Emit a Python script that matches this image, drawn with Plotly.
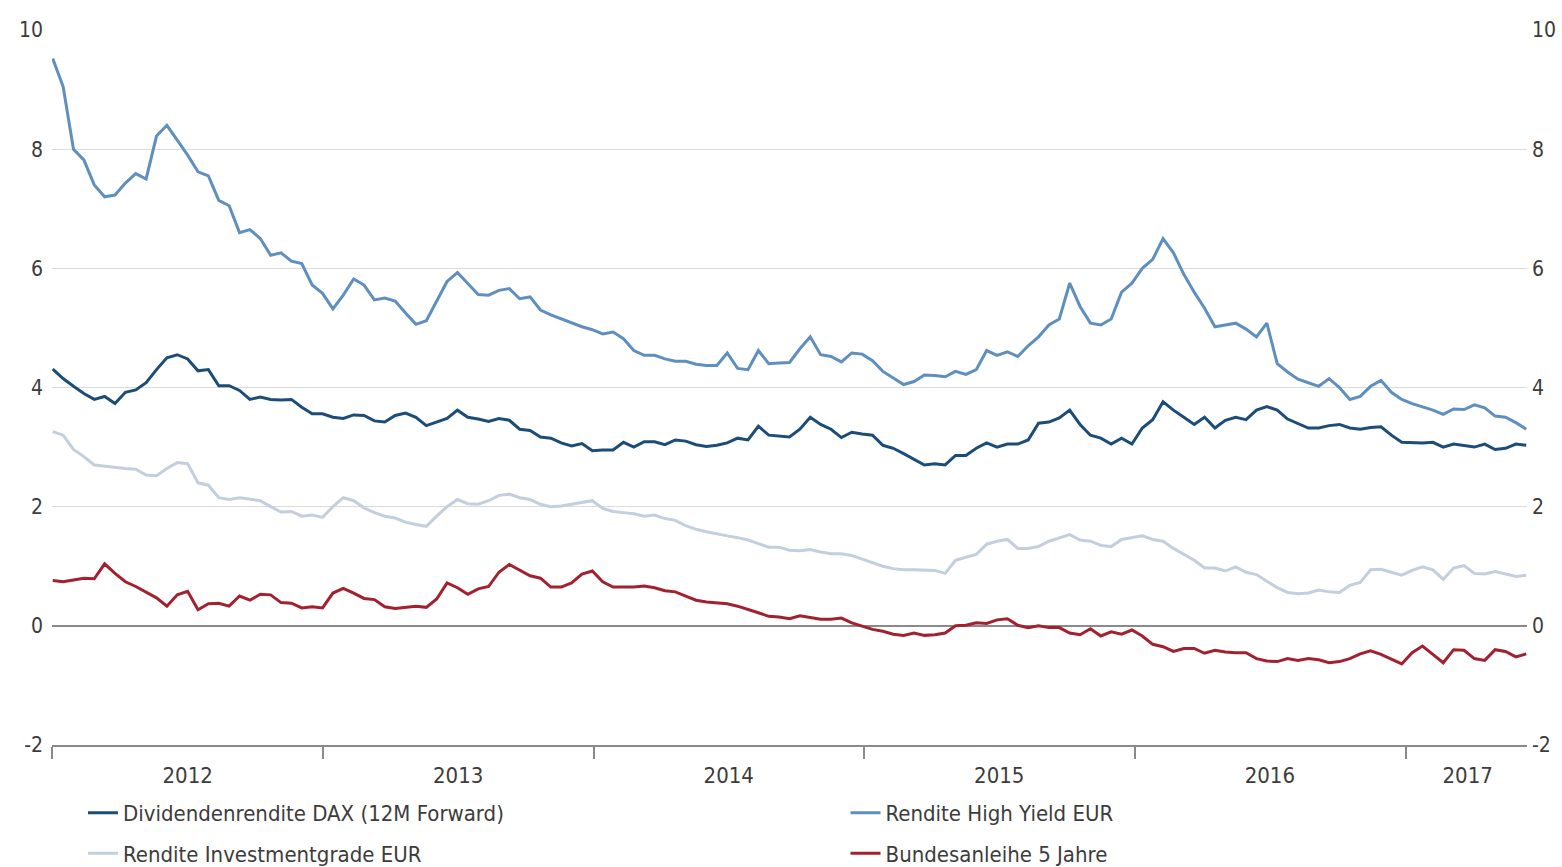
import pandas as pd
import plotly.graph_objects as go

# biweekly observation dates
dates = pd.date_range("2012-01-02", periods=143, freq="14D")

dax = [4.31, 4.15, 4.02, 3.90, 3.80, 3.85, 3.73, 3.92, 3.96, 4.08,
       4.30, 4.50, 4.55, 4.48, 4.28, 4.30, 4.03, 4.03, 3.95, 3.80,
       3.84, 3.80, 3.79, 3.80, 3.67, 3.56, 3.56, 3.50, 3.48, 3.54,
       3.53, 3.44, 3.42, 3.53, 3.57, 3.50, 3.36, 3.42, 3.48, 3.62,
       3.50, 3.47, 3.43, 3.48, 3.45, 3.30, 3.28, 3.17, 3.15, 3.07,
       3.02, 3.06, 2.94, 2.95, 2.95, 3.08, 3.00, 3.09, 3.09, 3.04,
       3.12, 3.10, 3.04, 3.01, 3.03, 3.07, 3.15, 3.12, 3.35, 3.20,
       3.18, 3.17, 3.30, 3.50, 3.38, 3.30, 3.16, 3.25, 3.22, 3.20,
       3.03, 2.98, 2.89, 2.80, 2.70, 2.72, 2.70, 2.86, 2.86, 2.98,
       3.07, 3.00, 3.05, 3.05, 3.12, 3.40, 3.42, 3.49, 3.62, 3.38,
       3.20, 3.15, 3.05, 3.15, 3.05, 3.32, 3.46, 3.76, 3.62, 3.50,
       3.38, 3.50, 3.32, 3.45, 3.50, 3.46, 3.62, 3.68, 3.62, 3.47,
       3.40, 3.32, 3.32, 3.36, 3.38, 3.32, 3.30, 3.33, 3.34, 3.20,
       3.08, 3.07, 3.07, 3.08, 3.00, 3.05, 3.03, 3.00, 3.05, 2.96,
       2.98, 3.05, 3.03]

high_yield = [9.52, 9.05, 8.00, 7.82, 7.40, 7.20, 7.23, 7.43, 7.59, 7.50,
              8.22, 8.40, 8.15, 7.90, 7.62, 7.55, 7.14, 7.05, 6.60, 6.65,
              6.50, 6.22, 6.26, 6.12, 6.08, 5.72, 5.58, 5.32, 5.55, 5.82,
              5.72, 5.47, 5.50, 5.45, 5.25, 5.06, 5.12, 5.45, 5.78, 5.93,
              5.75, 5.56, 5.55, 5.63, 5.66, 5.49, 5.52, 5.30, 5.22, 5.15,
              5.08, 5.02, 4.97, 4.90, 4.93, 4.82, 4.62, 4.54, 4.54, 4.48,
              4.44, 4.44, 4.39, 4.37, 4.37, 4.58, 4.32, 4.30, 4.62, 4.40,
              4.41, 4.42, 4.65, 4.85, 4.55, 4.52, 4.43, 4.58, 4.56, 4.45,
              4.27, 4.16, 4.05, 4.10, 4.21, 4.20, 4.18, 4.27, 4.22, 4.30,
              4.62, 4.54, 4.60, 4.52, 4.70, 4.85, 5.05, 5.15, 5.75, 5.36,
              5.08, 5.05, 5.15, 5.60, 5.75, 6.00, 6.15, 6.50, 6.26, 5.90,
              5.60, 5.33, 5.02, 5.05, 5.08, 4.98, 4.85, 5.08, 4.40, 4.26,
              4.14, 4.08, 4.02, 4.15, 4.00, 3.80, 3.85, 4.02, 4.12, 3.92,
              3.80, 3.73, 3.68, 3.62, 3.55, 3.64, 3.63, 3.71, 3.66, 3.52,
              3.50, 3.41, 3.30]

investment_grade = [3.26, 3.20, 2.96, 2.84, 2.70, 2.68, 2.65, 2.64, 2.63, 2.53,
                    2.52, 2.64, 2.74, 2.72, 2.40, 2.36, 2.15, 2.12, 2.15, 2.12,
                    2.10, 2.00, 1.91, 1.92, 1.84, 1.86, 1.82, 2.00, 2.15, 2.10,
                    1.98, 1.90, 1.84, 1.81, 1.74, 1.70, 1.67, 1.84, 2.00, 2.12,
                    2.05, 2.04, 2.10, 2.19, 2.21, 2.15, 2.12, 2.04, 2.00, 2.01,
                    2.04, 2.08, 2.10, 1.97, 1.92, 1.90, 1.88, 1.84, 1.86, 1.80,
                    1.77, 1.68, 1.62, 1.58, 1.54, 1.51, 1.48, 1.44, 1.38, 1.32,
                    1.32, 1.27, 1.26, 1.28, 1.24, 1.21, 1.21, 1.18, 1.12, 1.06,
                    1.00, 0.96, 0.94, 0.94, 0.94, 0.93, 0.88, 1.10, 1.15, 1.20,
                    1.37, 1.42, 1.45, 1.30, 1.30, 1.33, 1.42, 1.48, 1.53, 1.44,
                    1.42, 1.35, 1.33, 1.45, 1.48, 1.51, 1.45, 1.42, 1.30, 1.20,
                    1.10, 0.97, 0.97, 0.92, 0.99, 0.90, 0.86, 0.75, 0.64, 0.56,
                    0.54, 0.55, 0.60, 0.57, 0.56, 0.68, 0.73, 0.94, 0.95, 0.90,
                    0.85, 0.93, 0.99, 0.94, 0.78, 0.97, 1.01, 0.88, 0.87, 0.91,
                    0.87, 0.83, 0.85]

bund_5y = [0.76, 0.74, 0.77, 0.80, 0.79, 1.04, 0.88, 0.74, 0.66, 0.56,
           0.47, 0.33, 0.52, 0.58, 0.27, 0.37, 0.38, 0.33, 0.50, 0.43,
           0.53, 0.52, 0.39, 0.38, 0.30, 0.32, 0.30, 0.55, 0.63, 0.55,
           0.46, 0.44, 0.32, 0.29, 0.31, 0.33, 0.31, 0.45, 0.72, 0.64,
           0.53, 0.62, 0.66, 0.90, 1.03, 0.93, 0.84, 0.80, 0.65, 0.65,
           0.72, 0.87, 0.92, 0.74, 0.65, 0.65, 0.65, 0.67, 0.64, 0.59,
           0.57, 0.50, 0.43, 0.40, 0.38, 0.37, 0.33, 0.28, 0.22, 0.16,
           0.15, 0.12, 0.17, 0.14, 0.11, 0.11, 0.13, 0.05, -0.01, -0.06,
           -0.09, -0.14, -0.16, -0.12, -0.16, -0.15, -0.12, 0.00, 0.01, 0.05,
           0.04, 0.10, 0.12, 0.01, -0.03, 0.00, -0.03, -0.03, -0.12, -0.15,
           -0.05, -0.17, -0.10, -0.14, -0.07, -0.17, -0.31, -0.35, -0.43, -0.38,
           -0.38, -0.46, -0.41, -0.44, -0.45, -0.45, -0.55, -0.59, -0.60, -0.55,
           -0.58, -0.55, -0.57, -0.62, -0.60, -0.55, -0.47, -0.42, -0.48, -0.56,
           -0.64, -0.45, -0.34, -0.48, -0.62, -0.40, -0.41, -0.55, -0.58, -0.40,
           -0.43, -0.52, -0.47]

year_labels = ["2012", "2013", "2014", "2015", "2016", "2017"]
year_label_dates = ["2012-07-02", "2013-07-02", "2014-07-02", "2015-07-02",
                    "2016-07-01", "2017-03-25"]
year_bounds = ["2012-01-01", "2013-01-01", "2014-01-01", "2015-01-01",
               "2016-01-01", "2017-01-01"]
y_ticks = [-2, 0, 2, 4, 6, 8, 10]
y_tick_text = ["-2", "0", "2", "4", "6", "8", "10"]

FONT = "Liberation Sans Narrow, Arial Narrow, DejaVu Sans Condensed, sans-serif"
TXT = "#3c3c3c"

c_dax = "#1b4d78"
c_hy = "#5f8fbf"
c_ig = "#c3cede"
c_bund = "#a3202f"

fig = go.Figure()
fig.add_trace(go.Scatter(x=dates, y=investment_grade, mode="lines",
                         name="Rendite Investmentgrade EUR",
                         line=dict(color=c_ig, width=3), legend="legend",
                         legendgroup="ig", legendrank=2))
fig.add_trace(go.Scatter(x=dates, y=bund_5y, mode="lines",
                         name="Bundesanleihe 5 Jahre",
                         line=dict(color=c_bund, width=3), legend="legend2",
                         legendgroup="bund", legendrank=2))
fig.add_trace(go.Scatter(x=dates, y=high_yield, mode="lines",
                         name="Rendite High Yield EUR",
                         line=dict(color=c_hy, width=3), legend="legend2",
                         legendgroup="hy", legendrank=1))
fig.add_trace(go.Scatter(x=dates, y=dax, mode="lines",
                         name="Dividendenrendite DAX (12M Forward)",
                         line=dict(color=c_dax, width=3), legend="legend",
                         legendgroup="dax", legendrank=1))
# carrier for the right-hand axis
fig.add_trace(go.Scatter(x=[dates[0]], y=[None], yaxis="y2", showlegend=False,
                         hoverinfo="skip", mode="lines"))

legend_common = dict(orientation="v", font=dict(family=FONT, size=22, color=TXT),
                     bgcolor="rgba(0,0,0,0)", tracegroupgap=9,
                     xanchor="left", yanchor="top")

fig.update_layout(
    width=1562, height=867,
    margin=dict(l=52, r=35, t=30, b=122, autoexpand=False),
    paper_bgcolor="white", plot_bgcolor="white",
    font=dict(family=FONT, size=21, color=TXT),
    xaxis=dict(
        type="date", range=["2012-01-01", "2017-06-13"],
        showgrid=False, zeroline=False,
        showline=True, linecolor="#8a8a8a", linewidth=1.5,
        tickmode="array", tickvals=year_label_dates, ticktext=year_labels,
        ticks="", ticklabelstandoff=10,
        tickfont=dict(family=FONT, size=22, color=TXT),
        minor=dict(tickmode="array", tickvals=year_bounds, ticks="outside",
                   ticklen=12, tickwidth=1.5, tickcolor="#8a8a8a", showgrid=False),
    ),
    yaxis=dict(
        range=[-2, 10], tickvals=y_ticks, ticktext=y_tick_text,
        showgrid=True, gridcolor="#dcdcdc",
        gridwidth=1.2, zeroline=True, zerolinecolor="#8a8a8a", zerolinewidth=1.5,
        showline=False, ticks="", ticklabelstandoff=8,
        tickfont=dict(family=FONT, size=21, color=TXT),
    ),
    yaxis2=dict(
        range=[-2, 10], tickvals=y_ticks, ticktext=y_tick_text,
        overlaying="y", side="right",
        showgrid=False, zeroline=False, showline=False, ticks="",
        ticklabelstandoff=4, tickfont=dict(family=FONT, size=21, color=TXT),
    ),
    legend=dict(x=0.021, y=-0.0655, **legend_common),
    legend2=dict(x=0.538, y=-0.0655, **legend_common),
    showlegend=True,
)

fig.write_html("out.html")
